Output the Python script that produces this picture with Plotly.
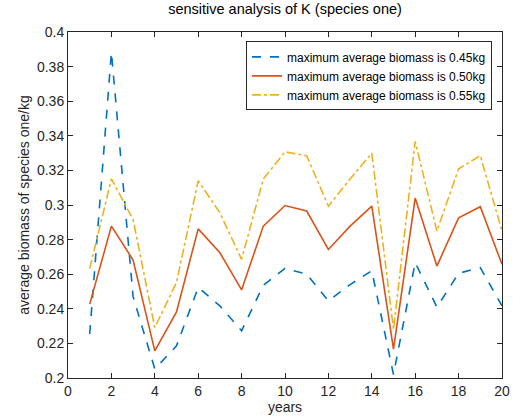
import plotly.graph_objects as go

years = list(range(1, 21))
k045 = [0.2254, 0.3883, 0.247, 0.2052, 0.2186, 0.2523, 0.2417, 0.2273, 0.2536, 0.2634,
        0.2600, 0.2446, 0.2540, 0.2620, 0.2020, 0.2667, 0.2410, 0.2605, 0.2638, 0.2417]
k050 = [0.2427, 0.2878, 0.2682, 0.2157, 0.2382, 0.2862, 0.2724, 0.2509, 0.2878, 0.2997,
        0.2965, 0.2743, 0.2878, 0.2993, 0.2167, 0.3040, 0.2647, 0.2926, 0.2990, 0.2657]
k055 = [0.2632, 0.3151, 0.2916, 0.2292, 0.2552, 0.3140, 0.2955, 0.2686, 0.3150, 0.3307,
        0.3285, 0.2993, 0.3150, 0.3300, 0.2282, 0.3368, 0.2849, 0.3209, 0.3285, 0.2850]
names = ["maximum average biomass is 0.45kg",
         "maximum average biomass is 0.50kg",
         "maximum average biomass is 0.55kg"]
colors = ["#0072BD", "#D95319", "#EDB120"]
dashes = ["dash", "solid", "dashdot"]
xticks = list(range(0, 21, 2))
yticks = [0.2, 0.22, 0.24, 0.26, 0.28, 0.3, 0.32, 0.34, 0.36, 0.38, 0.4]
yticklabels = ["0.2", "0.22", "0.24", "0.26", "0.28", "0.3", "0.32", "0.34", "0.36", "0.38", "0.4"]

fig = go.Figure()
for ys, n, c, d in zip([k045, k050, k055], names, colors, dashes):
    fig.add_trace(go.Scatter(x=years, y=ys, mode="lines", name=n,
                             line=dict(color=c, width=1.6, dash=d)))

axis_common = dict(showgrid=False, zeroline=False, showline=True, linecolor="#262626",
                   linewidth=1, mirror="ticks", ticks="inside", ticklen=5,
                   tickcolor="#262626", tickfont=dict(size=14, color="#262626"))
fig.update_layout(
    width=521, height=420,
    margin=dict(l=68, r=11, t=32, b=41),
    paper_bgcolor="white", plot_bgcolor="white",
    font=dict(family="Liberation Sans, Arial, sans-serif", color="#262626"),
    title=dict(text="sensitive analysis of K (species one)", xref="paper", x=0.5, xanchor="center",
               yref="container", y=0.99, yanchor="top", font=dict(size=14.5, color="#000000")),
    xaxis=dict(range=[0, 20], tickvals=xticks,
               title=dict(text="years", font=dict(size=14), standoff=0), **axis_common),
    yaxis=dict(range=[0.2, 0.4], tickvals=yticks, ticktext=yticklabels,
               title=dict(text="average biomass of species one/kg", font=dict(size=14), standoff=4),
               **axis_common),
    legend=dict(x=0.977, y=0.973, xanchor="right", yanchor="top",
                bordercolor="#262626", borderwidth=1, bgcolor="white",
                font=dict(size=12, color="#000000"), tracegroupgap=0, itemwidth=30),
    showlegend=True,
)
fig.write_html("out.html")
